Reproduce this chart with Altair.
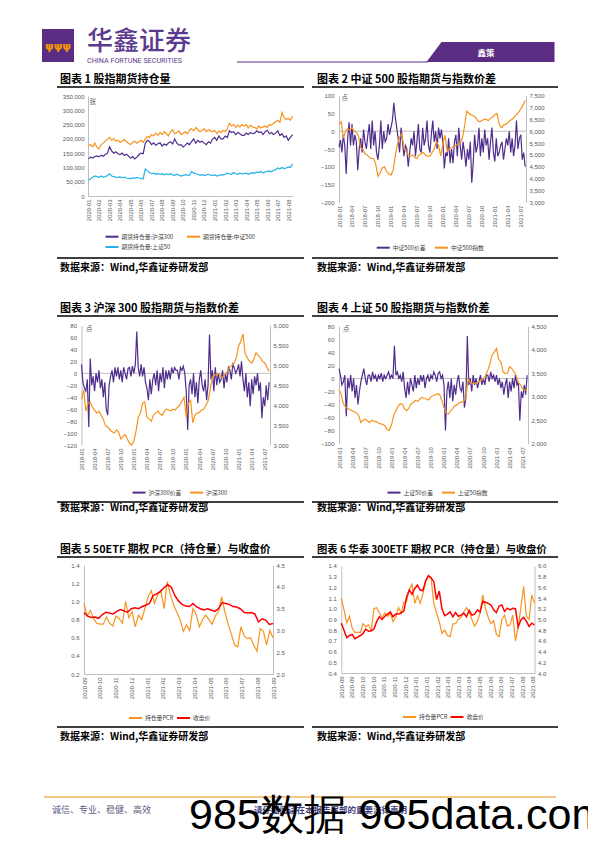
import altair as alt
import numpy as np
import pandas as pd

W, H = 580, 826
CJK = "Noto Sans CJK SC"
LAT = "Liberation Sans"
GRAY = "#595959"
AXC = "#BFBFBF"
PURPLE = "#4F2D8C"
ORANGE = "#F7931E"
CYAN = "#22B1E8"
RED = "#FF0000"
HDR = "#5A2D82"

# ---------------- data ----------------
# Chart 1: open interest (thousand contracts), 2020-01 .. 2021-08
oi_hs300_k = [130,136,133,138,
    140,137,143,139,145, 150,172,158,150,155, 148,145,150,142,146, 140,132,138,130,136,
    145,150,148,185,195, 190,180,186,178,183, 186,175,182,178,186, 190,182,200,185,178,
    180,172,178,185,180, 190,200,185,195,188, 192,185,180,190,185, 200,205,195,210,200,
    200,210,205,228,222, 225,215,222,218,212, 212,220,215,222,218, 220,228,222,225,215,
    225,230,218,222,215, 220,228,212,218,205, 210,195,205,215]
oi_zz500_k = [175,180,172,185,
    170,165,180,185,192, 200,205,195,200,192, 195,188,192,198,190, 185,180,188,192,185,
    190,195,188,200,208, 205,215,210,220,212, 222,215,225,218,210, 225,232,218,222,228,
    215,220,225,218,230, 235,228,240,232,225, 230,235,225,232,228, 225,230,218,228,222,
    230,225,235,255,245, 250,240,248,242,250, 245,250,238,248,242, 240,235,245,238,242,
    245,240,250,248,255, 260,265,258,292,275, 268,272,265,280]
oi_sz50_k = [55,60,66,70,
    68,65,70,66,68, 72,78,70,68,66, 65,67,64,66,63, 62,60,64,62,65,
    63,62,60,95,88, 82,78,80,76,78, 76,78,74,77,75, 78,74,72,76,73,
    70,72,75,73,72, 86,80,78,76,72, 75,72,74,76,73, 72,74,70,72,75,
    73,76,80,78,76, 82,78,76,80,77, 78,80,76,79,82, 80,84,82,86,80,
    84,86,88,85,90, 92,98,95,100,96, 98,102,100,112]

# Chart 2: CSI 500 basis (points) and index, 2018-01 .. 2021-08
zz500_basis = [-45,-25,-60, -10,-40,-120, -20,25,-40, 20,-40,-10, -30,-110,-50, -20,-60,5,
    -30,-50,-10, 20,-50,30, -40,0,-60, -80,-40,30, -50,0,-30, -20,20,-10,
    10,30,80, 40,10,-20, -60,10,-30, -70,-40,-50, -100,-60,-20, -40,0,-70,
    -30,20,-50, -60,10,-40, -20,30,-40, -60,-10,30, -30,0,-50, 10,-20,5,
    -30,-105,-60, -70,-20,-90, -50,-90,-30, -10,-70,10, -40,-80,-30, -60,-100,-50,
    -80,-30,-145, -90,-10,-60, -40,10,-70, -20,-60,5, -40,-20,-80, -30,10,-60,
    -85,-20,-70, -60,-40,-30, -80,-50,-20, -40,0,-60, -20,-70,-40, 30,-50,-20,
    -10,-80,-60, -100]
zz500_index = [6300,6400, 5700,6000, 6100,6050, 6150,6000, 5950,5800, 5300,5250,
    5050,5000, 4900,4850, 4850,4600, 4100,4250, 4450,4500, 4300,4200,
    4150,4350, 4950,5450, 5750,5900, 5300,5150, 5000,4950, 5000,4900,
    4850,5000, 5050,5100, 5000,4950, 4950,5100, 5250,5550, 5400,4950,
    5500,5830, 5150,5250, 5300,5350, 5400,5450, 5500,5700, 6200,6850,
    6750,6700, 6650,6600, 6450,6400, 6450,6500, 6500,6450, 6550,6600,
    6700,6750, 6300,6150, 6250,6300, 6350,6450, 6500,6600, 6700,6800,
    6950,7100, 7300]

# Chart 3: CSI 300 basis and index
hs300_basis = [15,-15,-25, -30,-10,-90, 25,-20,-5, -30,0,-15, 5,-25,-10, -40,-15,-60,
    -70,-20,-5, 5,-15,10, -5,10,-10, 5,-15,10, 0,-10,8, 10,-5,12,
    0,15,70, 10,-5,15, -5,10,-15, -25,-45,-10, -35,-10,0, -20,5,-30,
    0,-15,10, -25,5,-10, 5,-10,10, 0,10,5, 5,-10,10, 5,12,0,
    -30,-95,-20, -10,-35,0, -40,-15,-50, -10,5,-20, -30,-10,-45, -20,65,-10,
    5,-30,10, -20,0,-15, -10,5,-25, 0,-15,10, 5,-10,15, 10,0,5,
    15,-5,20, -10,-30,0, -40,-15,-55, -10,-35,-5, -20,0,-30, -15,-75,-40,
    -55,-20,-45, -15]
hs300_index = [4150,4380, 3850,4050, 4080,3950, 3870,3800, 3850,3750, 3650,3480,
    3450,3390, 3330,3300, 3380,3330, 3150,3220, 3260,3150, 3050,3000,
    3100,3350, 3700,3800, 4050,4080, 3700,3650, 3600,3750, 3800,3850,
    3780,3750, 3850,3900, 3880,3860, 3900,3880, 3950,3990, 4100,4200,
    3690,4050, 4120,3560, 3750,3800, 3820,3880, 3900,4000, 4100,4400,
    4700,4760, 4760,4800, 4700,4720, 4800,4850, 4970,5000, 5060,5200,
    5490,5600, 5790,5300, 5190,5100, 5060,5150, 5320,5250, 5190,5100,
    5060,4950, 4850]

# Chart 4: SSE 50 basis and index
sz50_basis = [15,5,-10, -5,5,-58, 0,-15,5, -20,0,-30, -10,-40,-20, -5,5,15,
    0,-10,5, 5,-5,10, 0,5,-5, 5,0,8, -5,5,0, 5,10,0,
    5,0,50, 5,10,0, 5,-5,10, -15,-30,-5, -25,0,-10, -20,5,-15,
    0,-10,5, -5,5,-15, 0,5,-5, 5,0,10, 5,-5,8, 10,0,5,
    -10,-80,-20, -5,-30,0, -35,-10,-25, -5,5,-15, -20,-5,-45, -30,65,-10,
    0,-20,5, -10,0,-15, -5,5,-10, 0,-10,5, 5,-5,10, 0,5,-5,
    5,-10,0, -15,-5,-25, -10,0,-30, -5,-20,0, -15,5,-10, -5,-65,-20,
    -30,-10,-25, 5]
sz50_index = [3150,3050, 2850,2780, 2750,2720, 2700,2680, 2650,2600, 2450,2500,
    2520,2480, 2450,2500, 2480,2470, 2440,2420, 2410,2380, 2300,2280,
    2400,2600, 2700,2800, 2850,2840, 2740,2700, 2760,2850, 2880,2920,
    2900,2950, 2990,2960, 2950,2930, 3000,3020, 3040,3060, 3050,2920,
    2770,2650, 2630,2700, 2750,2810, 2830,2880, 2880,2900, 2950,3380,
    3300,3270, 3280,3300, 3320,3350, 3380,3450, 3560,3700, 3890,3950,
    4030,3800, 3740,3530, 3490,3500, 3640,3600, 3530,3450, 3300,3250,
    3170,3130, 3150]

# Chart 5: 50ETF option PCR (open interest) and close, 2020-09 .. 2021-08
etf50_close = [3.41,3.33,3.30,3.31,3.28,3.36,3.42,3.40,3.38,3.44,3.48,3.45,3.42,
    3.50,3.52,3.50,3.55,3.58,3.62,3.80,3.84,3.90,3.98,4.05,4.00,3.80,3.68,
    3.60,3.56,3.55,3.62,3.54,3.50,3.47,3.50,3.47,3.44,3.50,3.64,3.62,3.60,
    3.55,3.54,3.50,3.42,3.40,3.41,3.38,3.20,3.27,3.24,3.14,3.16]
etf50_pcr = [0.98,0.84,0.90,0.81,0.76,0.75,0.75,0.83,0.76,0.73,0.84,0.81,0.76,1.00,
    0.82,0.89,0.72,0.85,0.80,0.92,1.05,1.12,0.98,1.07,1.12,0.92,1.22,1.07,0.96,
    0.88,0.80,0.67,0.74,0.68,0.92,0.86,0.72,0.80,0.85,0.80,0.75,0.84,0.89,1.05,
    0.88,0.75,0.64,0.52,0.50,0.72,0.62,0.59,0.60,0.52,0.45,0.70,0.67,0.52,0.68,0.60]

# Chart 6: Huatai-PB 300ETF option PCR and close
hs300etf_pcr = [1.10,0.99,0.87,0.93,0.82,0.78,0.78,0.78,0.86,0.83,0.85,0.80,1.00,1.01,
    0.96,0.92,0.96,0.93,0.96,0.88,0.92,1.01,0.96,1.06,1.07,1.18,1.23,1.05,1.12,1.05,
    1.14,1.26,1.31,1.28,1.05,0.96,0.88,0.77,0.80,0.75,0.74,0.86,0.86,0.90,0.92,0.97,
    1.01,0.97,0.90,0.84,0.88,0.96,1.13,1.00,0.92,0.86,0.89,0.76,0.74,0.90,0.94,0.84,
    0.85,0.94,0.70,0.83,1.01,1.21,0.93,0.90,1.13,1.05]
hs300etf_close = [4.93,4.80,4.66,4.70,4.72,4.64,4.67,4.70,4.74,4.82,4.78,4.79,4.82,4.96,
    5.05,5.00,5.06,5.10,5.14,5.05,5.10,5.10,5.12,5.16,5.42,5.55,5.47,5.58,5.64,5.55,
    5.54,5.72,5.82,5.78,5.70,5.37,5.53,5.20,5.07,5.10,5.14,5.05,5.13,5.06,5.08,5.12,
    5.05,5.17,5.08,5.10,5.18,5.14,5.34,5.32,5.30,5.27,5.18,5.13,5.25,5.27,5.15,5.21,
    5.18,5.21,5.20,4.86,4.99,5.04,4.97,4.87,4.93,4.90]
etf6_labels = ["2020-09","2020-09","2020-10","2020-10","2020-11","2020-11","2020-12",
    "2021-01","2021-01","2021-02","2021-03","2021-03","2021-04","2021-05","2021-06",
    "2021-06","2021-07","2021-08","2021-08"]

# ---------------- helpers ----------------
def P(x):
    return x - 8

def Q(y):
    return y - 8

one = pd.DataFrame({"k": [0]})
layers = []

MONTH_EXPR = ("toString(2018 + floor(datum.value / 12)) + '-' + "
              "(datum.value % 12 < 9 ? '0' : '') + toString(datum.value % 12 + 1)")


def text(s, x, y, size=10, color="#000000", weight="normal", font=CJK,
         align="left", baseline="middle"):
    layers.append(alt.Chart(one).mark_text(
        text=s, align=align, baseline=baseline, fontSize=size, font=font,
        fontWeight=weight, color=color).encode(x=alt.value(P(x)), y=alt.value(Q(y))))


def hline(x1, x2, y, color, width):
    layers.append(alt.Chart(one).mark_rule(color=color, strokeWidth=width).encode(
        x=alt.value(P(x1)), x2=alt.value(P(x2)), y=alt.value(Q(y))))


def yaxis(orient, xpage, values, fmt, pad=4):
    off = -P(xpage) if orient == "left" else P(xpage) - W
    return alt.Axis(orient=orient, offset=off, values=values, format=fmt,
                    labelFontSize=6, labelColor=GRAY, labelFont=LAT,
                    domainColor=AXC, domainWidth=1, ticks=False, grid=False,
                    labelPadding=pad, labelFlush=False, labelOverlap=False)


def xaxis(ypage, values, expr, domain=True):
    return alt.Axis(orient="bottom", offset=Q(ypage) - H, values=values,
                    labelExpr=expr, labelAngle=270, labelFontSize=5.9,
                    labelColor=GRAY, labelFont=LAT, domain=domain,
                    domainColor=AXC, ticks=False, grid=False, labelPadding=3,
                    labelFlush=False, labelOverlap=False)


def xscale(dom, xr):
    return alt.Scale(domain=dom, range=[P(xr[0]), P(xr[1])], nice=False, zero=False)


def yscale(dom, yr):
    # yr = (bottom pixel, top pixel); domain minimum sits at the bottom
    return alt.Scale(domain=dom, range=[Q(yr[0]), Q(yr[1])], nice=False, zero=False)


def series(xs, ys, name, color, xdom, xr, ydom, yr, leg, xax=None, yax=None, sw=1.2):
    df = pd.DataFrame({"t": list(xs), "v": list(ys), "s": [name] * len(ys)})
    xenc = alt.X("t:Q", scale=xscale(xdom, xr), axis=xax, title=None)
    yenc = alt.Y("v:Q", scale=yscale(ydom, yr), axis=yax, title=None)
    col = alt.Color("s:N", scale=alt.Scale(domain=[name], range=[color]),
                    legend=alt.Legend(orient="none", legendX=P(leg[0]),
                                      legendY=Q(leg[1]) - 6.5, title=None,
                                      symbolType="stroke", symbolSize=169,
                                      symbolStrokeWidth=2, labelFontSize=5.8,
                                      labelFont=CJK, labelColor="#404040",
                                      padding=0, labelOffset=2))
    layers.append(alt.Chart(df).mark_line(strokeWidth=sw).encode(x=xenc, y=yenc, color=col))


def zero_rule(xdom, xr, ydom, yr):
    df = pd.DataFrame({"v": [0]})
    layers.append(alt.Chart(df).mark_rule(color=AXC, strokeWidth=1).encode(
        y=alt.Y("v:Q", scale=yscale(ydom, yr), axis=None),
        x=alt.value(P(xr[0])), x2=alt.value(P(xr[1]))))


def frame(col, ytitle, yline, ybottom, ysource, title, tsize=11):
    x0 = 60 if col == 0 else 317
    l0, l1 = (57, 304) if col == 0 else (312, 558)
    text(title, x0, ytitle, size=tsize, weight="bold")
    hline(l0, l1, yline, "#000000", 1.4)
    hline(l0, l1, ybottom, "#000000", 1.4)
    text("数据来源：Wind,华鑫证券研发部", x0, ysource, size=10, weight="bold")

# ---------------- header ----------------
layers.append(alt.Chart(one).mark_rect(color=HDR).encode(
    x=alt.value(P(42)), x2=alt.value(P(74)), y=alt.value(Q(29)), y2=alt.value(Q(62))))
text("ψψψ", 58, 47, size=11, color="#F39800", weight="bold", font="DejaVu Sans", align="center")
text("华鑫证券", 87, 42, size=26, color="#5B3A8E", weight=500)
text("CHINA FORTUNE SECURITIES", 87, 60.5, size=7.2, color="#5B3A8E", font="Roboto")
hline(237, 428, 62, HDR, 1.2)
layers.append(alt.Chart(one).mark_point(
    shape="M -6.4 1 L -4.9 -1 L 6.4 -1 L 6.4 1 Z", size=400, filled=True,
    color=HDR, opacity=1, strokeWidth=0).encode(x=alt.value(P(490.5)), y=alt.value(Q(52))))
text("鑫策", 486, 52.5, size=8.5, color="#FFFFFF", weight="bold", align="center")

# ---------------- panel frames ----------------
frame(0, 80, 87, 258, 268, "图表 1 股指期货持仓量")
frame(1, 80, 87, 258, 268, "图表 2 中证 500 股指期货与指数价差")
frame(0, 309, 316, 502, 508, "图表 3 沪深 300 股指期货与指数价差")
frame(1, 309, 316, 502, 508, "图表 4 上证 50 股指期货与指数价差")
frame(0, 550, 557, 727, 737, "图表 5 50ETF 期权 PCR（持仓量）与收盘价", tsize=10.8)
frame(1, 550, 557, 727, 737, "图表 6 华泰 300ETF 期权 PCR（持仓量）与收盘价", tsize=10.3)

# ---------------- chart 1 ----------------
c1x = [24, 43.4]
c1xr = (88, 292.5)
c1y = [0, 350000]
c1yr = (196, 96)
t1 = np.linspace(24.05, 43.4, len(oi_hs300_k))
series(t1, np.array(oi_hs300_k) * 1000, "期货持仓量:沪深300", PURPLE, c1x, c1xr, c1y, c1yr,
       (104.5, 235.7), xax=xaxis(196, list(range(24, 44)), MONTH_EXPR),
       yax=yaxis("left", 88, list(range(0, 350001, 50000)), ",d", pad=4))
series(t1, np.array(oi_zz500_k) * 1000, "期货持仓量:中证500", ORANGE, c1x, c1xr, c1y, c1yr,
       (186, 235.7))
series(t1, np.array(oi_sz50_k) * 1000, "期货持仓量:上证50", CYAN, c1x, c1xr, c1y, c1yr,
       (104.5, 246))
text("张", 89.5, 102, size=6.5, color=GRAY)

# ---------------- charts 2-4 ----------------
qt = list(range(0, 43, 3))


def basis_chart(basis, index, bname, iname, xr, lydom, lyr, lvals, rydom, rvals, legs, unit_xy):
    xd = [0, 43.3]
    zero_rule(xd, xr, lydom, lyr)
    tb = np.linspace(0, 43.1, len(basis))
    ti = np.linspace(0, 43.1, len(index))
    series(tb, basis, bname, PURPLE, xd, xr, lydom, lyr, legs[0],
           xax=xaxis(lyr[0], qt, MONTH_EXPR, domain=False),
           yax=yaxis("left", xr[0], lvals, ",d", pad=5))
    series(ti, index, iname, ORANGE, xd, xr, rydom, lyr, legs[1],
           yax=yaxis("right", xr[1], rvals, ",d", pad=3))
    text("点", unit_xy[0], unit_xy[1], size=6.5, color=GRAY)


basis_chart(zz500_basis, zz500_index, "中证500价差", "中证500指数", (339, 526),
            [-200, 100], (202.3, 95.7), list(range(-200, 101, 50)),
            [3000, 7500], list(range(3000, 7501, 500)),
            [(375.7, 246.7), (434, 246.7)], (341.5, 98))
basis_chart(hs300_basis, hs300_index, "沪深300价差", "沪深300", (81.5, 270),
            [-120, 80], (445, 325.6), list(range(-120, 81, 20)),
            [3000, 6000], list(range(3000, 6001, 500)),
            [(131.5, 491.6), (189, 491.6)], (86, 329))
basis_chart(sz50_basis, sz50_index, "上证50价差", "上证50指数", (339, 528),
            [-100, 80], (443.6, 326.3), list(range(-100, 81, 20)),
            [2000, 4500], list(range(2000, 4501, 500)),
            [(386.5, 491.6), (441, 491.6)], (343, 329))

# ---------------- chart 5 ----------------
c5x = [32, 44]
c5xr = (84, 273)
c5yr = (674, 565.2)
series(np.linspace(32, 44, len(etf50_pcr)), etf50_pcr, "持仓量PCR", ORANGE, c5x, c5xr,
       [0.2, 1.4], c5yr, (128, 717),
       xax=xaxis(674, list(range(32, 45)), MONTH_EXPR),
       yax=yaxis("left", 84, [0.2, 0.4, 0.6, 0.8, 1.0, 1.2, 1.4], ".1f", pad=5))
series(np.linspace(32, 44, len(etf50_close)), etf50_close, "收盘价", RED, c5x, c5xr,
       [2.0, 4.5], c5yr, (176, 717),
       yax=yaxis("right", 273, [2.0, 2.5, 3.0, 3.5, 4.0, 4.5], ".1f", pad=3), sw=1.5)

# ---------------- chart 6 ----------------
n6 = len(hs300etf_pcr)
c6x = [0, n6 - 1]
c6xr = (341.3, 534.5)
c6yr = (673, 565.9)
step6 = (n6 - 1) * (563.0 / 568.0) / (len(etf6_labels) - 1)
tick6 = [round(k * step6, 4) for k in range(len(etf6_labels))]
expr6 = "[" + ",".join("'%s'" % s for s in etf6_labels) + "][round(datum.value / %s)]" % step6
series(np.arange(n6), hs300etf_pcr, "持仓量PCR", ORANGE, c6x, c6xr, [0.4, 1.4], c6yr,
       (402, 716), xax=xaxis(673, tick6, expr6),
       yax=yaxis("left", 341.3, [0.4, 0.5, 0.6, 0.7, 0.8, 0.9, 1.0, 1.1, 1.2, 1.3, 1.4], ".1f", pad=5))
series(np.arange(n6), hs300etf_close, "收盘价", RED, c6x, c6xr, [4.0, 6.0], c6yr,
       (449.5, 716),
       yax=yaxis("right", 534.5, [4.0, 4.2, 4.4, 4.6, 4.8, 5.0, 5.2, 5.4, 5.6, 5.8, 6.0], ".1f", pad=3),
       sw=1.5)

# ---------------- footer ----------------
hline(44, 556, 797, "#F2B45C", 1.5)
text("诚信、专业、稳健、高效", 52, 810, size=9, color="#5D5D82")
text("请仔细阅读在本报告尾部的重要法律声明", 254, 810, size=8.5, color="#3D3D80", weight="bold")
text("985数据 985data.com", 189, 829, size=43, color="#000000", font=LAT, baseline="alphabetic")

chart = alt.layer(*layers).resolve_scale(
    x="independent", y="independent", color="independent"
).properties(
    width=W, height=H, padding=0, autosize=alt.AutoSizeParams(type="none")
).configure_view(strokeWidth=0)

chart.save("out.html", embed_options={"renderer": "svg", "actions": False})
